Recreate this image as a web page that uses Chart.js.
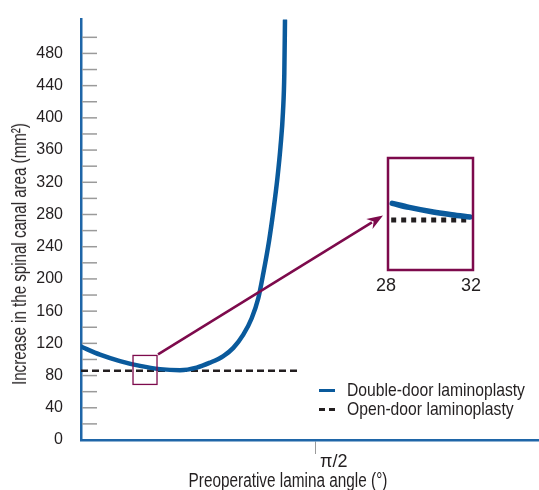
<!DOCTYPE html>
<html>
<head>
<meta charset="utf-8">
<script src="https://cdn.jsdelivr.net/npm/chart.js@4.4.1/dist/chart.umd.min.js"></script>
<style>
    body { margin: 0; background: #fff; }
    #wrap { position: relative; width: 539px; height: 490px; overflow: hidden; }
    #mainChart { position: absolute; left: 0; top: 0; }
    #insetChart { position: absolute; left: 370px; top: 150px; }
    .txt {
        position: absolute;
        font-family: "Liberation Sans", Arial, sans-serif;
        font-size: 20px;
        line-height: 20px;
        color: #231f20;
        white-space: nowrap;
        transform-origin: 0 0;
    }
    .leg { font-size: 19px; line-height: 19px; }
    .swatch { position: absolute; height: 0; }
</style>
</head>
<body>
<div id="wrap">
    <canvas id="mainChart" width="539" height="490"></canvas>
    <canvas id="insetChart" width="120" height="150"></canvas>
    <div class="txt" id="yTitle" style="left:19px; top:253.5px; transform: rotate(-90deg) scaleX(0.755) translate(-50%, -50%);">Increase in the spinal canal area (mm²)</div>
    <div class="txt" id="xTitle" style="left:287.5px; top:479.5px; transform: scaleX(0.767) translate(-50%, -50%);">Preoperative lamina angle (°)</div>
    <div class="swatch" style="left:319px; top:388.5px; width:16px; border-top:3px solid #0a5a9c;"></div>
    <div class="swatch" style="left:319px; top:407.5px; width:16px; border-top:3px dashed #231f20;"></div>
    <div class="txt leg" id="leg1" style="left:347px; top:379.7px; transform: scaleX(0.826);">Double-door laminoplasty</div>
    <div class="txt leg" id="leg2" style="left:347px; top:399.2px; transform: scaleX(0.826);">Open-door laminoplasty</div>
</div>
<script>
// valeurs (angle en degrés, aire en mm²)
const doubleDoorAngle = [19.33, 22.5, 25.83, 29.17, 32.5, 35.83, 38.6, 40.83, 43.05, 44.72, 46.38, 47.78, 48.88, 49.72, 50.67, 51.42, 52.08, 52.58, 53.0, 53.22, 53.33];
const doubleDoorArea = [116, 106, 98, 92, 88, 86.7, 89.9, 96, 104.2, 114.4, 130.8, 151.2, 176, 207, 247, 286, 326, 364, 408, 455, 521];
const openDoorAngle = [19.33, 55.5];
const openDoorArea = [86, 86];

const yTickValues = [0, 40, 80, 120, 160, 200, 240, 280, 320, 360, 400, 440, 480];
const yMinorTicks = [20, 40, 60, 80, 100, 120, 140, 160, 180, 200, 220, 240, 260, 280, 300, 320, 340, 360, 380, 400, 420, 440, 460, 480, 500];
const xTickValue = 58.5;
const xTickLabel = 'π/2';

// encart 28-32
const insetAngle = [28.2, 29, 30, 31, 31.85];
const insetDouble = [91.4, 90, 88.6, 87.5, 86.7];
const insetOpenAngle = [28.15, 31.9];
const insetOpen = [85.7, 85.7];
const insetTicks = [28, 32];
const zoomBoxAngle = [28, 32];
const zoomBoxArea = [69, 105];
const arrowTipArea = 87.2;

const blue = '#0a5a9c';
const axisBlue = '#1f66a8';
const magenta = '#7d0a4c';
const textColor = '#231f20';
const fontFamily = '"Liberation Sans", Arial, sans-serif';

const toPoints = (xs, ys) => xs.map((x, i) => ({ x: x, y: ys[i] }));

// encart
const insetFrame = {
    id: 'insetFrame',
    afterDatasetsDraw(chart) {
        const { ctx, chartArea } = chart;
        ctx.save();
        ctx.strokeStyle = magenta;
        ctx.lineWidth = 2.5;
        ctx.strokeRect(chartArea.left, chartArea.top, chartArea.right - chartArea.left, chartArea.bottom - chartArea.top);
        ctx.restore();
    }
};

const insetChart = new Chart(document.getElementById('insetChart'), {
    type: 'line',
    data: {
        datasets: [{
            data: toPoints(insetAngle, insetDouble),
            borderColor: blue,
            borderWidth: 5.5,
            borderCapStyle: 'round',
            cubicInterpolationMode: 'monotone',
            pointRadius: 0
        }, {
            data: toPoints(insetOpenAngle, insetOpen),
            borderColor: textColor,
            borderWidth: 5,
            borderDash: [5, 5],
            pointRadius: 0
        }]
    },
    options: {
        responsive: false,
        animation: false,
        layout: { padding: { left: 18, right: 17, top: 8, bottom: 0 } },
        plugins: { legend: { display: false }, tooltip: { enabled: false } },
        scales: {
            x: {
                type: 'linear', min: 28, max: 32,
                afterFit: s => { s.height = 30; },
                afterBuildTicks: s => { s.ticks = insetTicks.map(v => ({ value: v })); },
                grid: { display: false },
                border: { display: false },
                ticks: { padding: -3, labelOffset: -2, font: { family: fontFamily, size: 18 }, color: textColor, maxRotation: 0, autoSkip: false }
            },
            y: { display: false, min: 68.6, max: 106.9 }
        }
    },
    plugins: [insetFrame]
});

// petits traits de graduation, cadre et flèche
const decorations = {
    id: 'decorations',
    beforeDatasetsDraw(chart) {
        const { ctx, chartArea, scales: { y } } = chart;
        ctx.save();
        ctx.strokeStyle = '#9a9a9a';
        ctx.lineWidth = 1.5;
        yMinorTicks.forEach(v => {
            const py = y.getPixelForValue(v);
            ctx.beginPath();
            ctx.moveTo(chartArea.left + 1, py);
            ctx.lineTo(chartArea.left + 16, py);
            ctx.stroke();
        });
        ctx.restore();
    },
    afterDatasetsDraw(chart) {
        const { ctx, scales: { x, y } } = chart;
        const x0 = x.getPixelForValue(zoomBoxAngle[0]);
        const x1 = x.getPixelForValue(zoomBoxAngle[1]);
        const y0 = y.getPixelForValue(zoomBoxArea[1]);
        const y1 = y.getPixelForValue(zoomBoxArea[0]);
        ctx.save();
        ctx.strokeStyle = magenta;
        ctx.lineWidth = 1.3;
        ctx.strokeRect(x0, y0, x1 - x0, y1 - y0);

        const insetCanvas = insetChart.canvas;
        const tipX = insetCanvas.offsetLeft + insetChart.chartArea.left - 5;
        const tipY = insetCanvas.offsetTop + insetChart.scales.y.getPixelForValue(arrowTipArea);
        const sx = x1 + 1, sy = y0 - 1;
        const ang = Math.atan2(tipY - sy, tipX - sx);
        const headLen = 16, headW = 6;
        const bx = tipX - headLen * Math.cos(ang), by = tipY - headLen * Math.sin(ang);
        ctx.lineWidth = 2.5;
        ctx.beginPath();
        ctx.moveTo(sx, sy);
        ctx.lineTo(bx + 3 * Math.cos(ang), by + 3 * Math.sin(ang));
        ctx.stroke();
        ctx.fillStyle = magenta;
        ctx.beginPath();
        ctx.moveTo(tipX, tipY);
        ctx.lineTo(bx + headW * Math.sin(ang), by - headW * Math.cos(ang));
        ctx.lineTo(bx + 5 * Math.cos(ang), by + 5 * Math.sin(ang));
        ctx.lineTo(bx - headW * Math.sin(ang), by + headW * Math.cos(ang));
        ctx.closePath();
        ctx.fill();
        ctx.restore();
    }
};

new Chart(document.getElementById('mainChart'), {
    type: 'line',
    data: {
        datasets: [{
            label: 'Double-door laminoplasty',
            data: toPoints(doubleDoorAngle, doubleDoorArea),
            borderColor: blue,
            borderWidth: 4.5,
            borderCapStyle: 'round',
            cubicInterpolationMode: 'monotone',
            pointRadius: 0
        }, {
            label: 'Open-door laminoplasty',
            data: toPoints(openDoorAngle, openDoorArea),
            borderColor: textColor,
            borderWidth: 2.5,
            borderDash: [7, 4],
            pointRadius: 0
        }]
    },
    options: {
        responsive: false,
        animation: false,
        layout: { padding: { top: 14, right: 0, left: 0, bottom: 0 } },
        plugins: { legend: { display: false }, tooltip: { enabled: false } },
        scales: {
            x: {
                type: 'linear', min: 19.33, max: 95.67,
                afterFit: s => { s.height = 50; },
                afterBuildTicks: s => { s.ticks = [{ value: xTickValue }]; },
                grid: { display: true, drawOnChartArea: false, drawTicks: true, tickLength: 14, color: '#9a9a9a', lineWidth: 1 },
                border: { display: true, color: axisBlue, width: 2.5 },
                ticks: {
                    callback: () => xTickLabel,
                    align: 'start', labelOffset: 4, padding: -3,
                    font: { family: fontFamily, size: 18 }, color: textColor,
                    maxRotation: 0, autoSkip: false
                }
            },
            y: {
                min: 0, max: 522,
                afterFit: s => { s.width = 81; },
                afterBuildTicks: s => { s.ticks = yTickValues.map(v => ({ value: v })); },
                grid: { display: false },
                border: { display: true, color: axisBlue, width: 2.5 },
                ticks: { padding: 10, font: { family: fontFamily, size: 16 }, color: textColor }
            }
        }
    },
    plugins: [decorations]
});
</script>
</body>
</html>
